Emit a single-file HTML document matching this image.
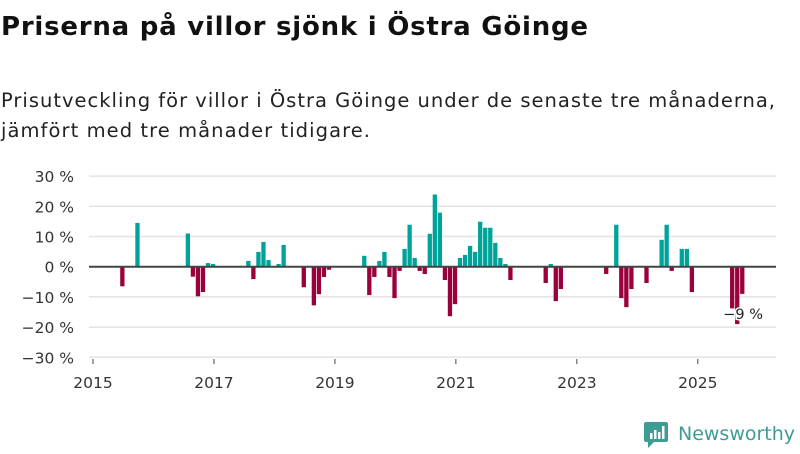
<!DOCTYPE html>
<html><head><meta charset="utf-8"><style>
body{margin:0;background:#fff;width:800px;height:450px;overflow:hidden;font-family:"DejaVu Sans",sans-serif;}
</style></head><body>
<svg width="800" height="450" xmlns="http://www.w3.org/2000/svg" font-family="DejaVu Sans, sans-serif">
<text x="1" y="35" font-size="26" font-weight="bold" fill="#111" textLength="587">Priserna på villor sjönk i Östra Göinge</text>
<text x="1" y="107" font-size="19.5" fill="#222" textLength="774">Prisutveckling för villor i Östra Göinge under de senaste tre månaderna,</text>
<text x="1" y="137" font-size="19.5" fill="#222" textLength="369">jämfört med tre månader tidigare.</text>
<g id="grid"></g><g id="bars"></g><g id="axes"></g>
<text x="763" y="319" font-size="14.5" fill="#222" text-anchor="end" stroke="#fff" stroke-width="3" paint-order="stroke">−9 %</text>
<g>
<path d="M646 422 h20 a2 2 0 0 1 2 2 v16 a2 2 0 0 1 -2 2 h-12 l-6 6 v-6 h-2 a2 2 0 0 1 -2 -2 v-16 a2 2 0 0 1 2 -2z" fill="#3d9c94"/>
<rect x="650" y="433" width="2.5" height="6" fill="#fff"/><rect x="654" y="430" width="2.5" height="9" fill="#fff"/><rect x="658" y="432" width="2.5" height="7" fill="#fff"/><rect x="662" y="426" width="2.5" height="13" fill="#fff"/>
<text x="678" y="440" font-size="19" fill="#3d9c94" textLength="117">Newsworthy</text>
</g>
</svg>
<script>
const months=[5,8,18,19,20,21,22,23,30,31,32,33,34,36,37,41,43,44,45,46,53,54,55,56,57,58,59,60,61,62,63,64,65,66,67,68,69,70,71,72,73,74,75,76,77,78,79,80,81,82,89,90,91,92,101,103,104,105,106,109,112,113,114,116,117,118,126,127,128];
const values=[-6.5,14.5,11,-3.3,-9.8,-8.4,1.2,0.9,1.9,-4.1,4.9,8.2,2.2,0.9,7.2,-6.8,-12.8,-9.1,-3.4,-1,3.6,-9.4,-3.4,1.9,4.9,-3.4,-10.4,-1.4,5.9,13.9,2.9,-1.4,-2.4,10.9,23.9,17.9,-4.4,-16.4,-12.4,2.9,3.9,6.9,4.9,14.9,12.9,12.9,7.9,2.9,0.9,-4.4,-5.4,0.9,-11.4,-7.4,-2.4,13.9,-10.4,-13.4,-7.4,-5.4,8.9,13.9,-1.4,5.9,5.9,-8.4,-13.8,-19,-9];
const yTicks=[30,20,10,0,-10,-20,-30];
const xTickYears=[2015,2017,2019,2021,2023,2025];
const NS="http://www.w3.org/2000/svg";
const X=m=>93+m*5.04, Y=v=>266.7-v*3.02;
function mk(p,t,a){const e=document.createElementNS(NS,t);for(const k in a)e.setAttribute(k,a[k]);document.getElementById(p).appendChild(e);return e;}
yTicks.forEach(v=>{
 if(v!==0){const l=mk('grid','line',{x1:89,x2:776,y1:Y(v),y2:Y(v),stroke:'#e3e3e3','stroke-width':1.5});
 
 }
 const t=mk('axes','text',{x:74,y:Y(v)+6,'font-size':15.5,fill:'#333','text-anchor':'end'});
 
 
 t.textContent=(v<0?'−'+(-v):v)+' %';
});
months.forEach((m,i)=>{const v=values[i];
 const r=mk('bars','rect',{x:X(m)+2,width:4.3,y:v>0?Y(v):Y(0),height:Math.abs(Y(v)-Y(0)),fill:v>0?'#00a39a':'#99003c'});
 
 
});
const z=mk('axes','line',{x1:89,x2:776,y1:Y(0),y2:Y(0),stroke:'#444','stroke-width':2});


xTickYears.forEach(y=>{const x=X((y-2015)*12);
 const tk=mk('axes','line',{x1:x,x2:x,y1:359,y2:364,stroke:'#444','stroke-width':1});
 
 
 const t=mk('axes','text',{x:x,y:388,'font-size':15.5,fill:'#333','text-anchor':'middle'});
 
 
 t.textContent=y;
});
</script>
</body></html>
